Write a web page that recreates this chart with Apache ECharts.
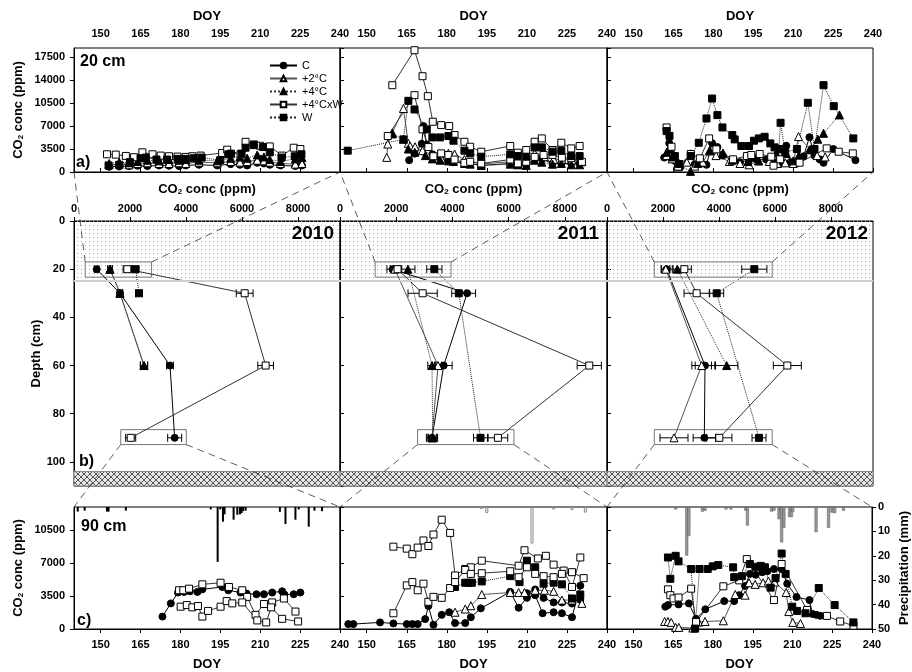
<!DOCTYPE html>
<html><head><meta charset="utf-8">
<script src="https://cdn.jsdelivr.net/npm/echarts@6/dist/echarts.min.js"></script>
<style>html,body{margin:0;padding:0;background:#fff}#c{width:912px;height:672px}</style>
</head><body><div id="c"></div>
<script>
// ---------- DATA ----------
const doyTicks = [150,165,180,195,210,225,240];
const years = ['2010','2011','2012'];
const seriesNames = ['C','+2°C','+4°C','+4°CxW','W'];

// 20 cm time series [DOY, ppm]
const t10_C  = [[153.2,800],[157,850],[160.7,900],[163.9,950],[167.6,900],[172,1000],[175.7,950],[179.5,900],[182,1000],[187,1100],[193.9,1000],[198.9,1200],[202.4,1100],[205.1,1000],[208.9,1400],[210,2000],[211.4,1300],[213.6,1100],[217.6,1000],[223.2,900],[225.7,1000]];
const t10_P2 = [[153.2,1100],[157,1200],[160.7,1100],[163.9,1300],[167.6,1400],[172,1300],[175.7,1300],[179.5,1400],[182,1300],[187,1500],[193.9,1400],[198.9,1600],[202.4,1500],[205.1,1600],[208.9,1800],[211.4,1700],[213.6,1500],[217.6,1300],[223.2,1200],[225.7,1300]];
const t10_P4 = [[153.2,1300],[157,1500],[160.7,1400],[163.9,1600],[167.6,1800],[172,1700],[175.7,1900],[179.5,1800],[182,1900],[187,1800],[193.9,1700],[198.9,2100],[202.4,2300],[205.1,2100],[208.9,2600],[211.4,2300],[213.6,1900],[217.6,1600],[223.2,2000],[225.7,2200]];
const t10_X  = [[152.4,2700],[155.7,2650],[159.5,2450],[162.6,2250],[165.7,3000],[169.5,2700],[172.6,2500],[175.7,2400],[178.9,2350],[182,2300],[184.5,2400],[187.6,2500],[195.7,2900],[197.6,3400],[202.6,2700],[204.5,4600],[207.6,4200],[210,4000],[213.6,3900],[218.2,2500],[222.6,3700],[225.1,3500]];
const t10_W  = [[153,1000],[157,1100],[161,1500],[165,2100],[167,2200],[171,1900],[175,1900],[179,2000],[182,2000],[185,2100],[188,2200],[195,1800],[198,2700],[199,2800],[203,2800],[204.5,3700],[207.6,4100],[211,3800],[213.6,3000],[218,2200],[223,2400],[225.5,2700]];

const t11_C  = [[165.9,1800],[167.9,2800],[170.6,4300],[171.25,7000],[172.5,4200],[174.6,2700],[177.5,2000],[180.6,1700],[182.5,1500],[186.6,1400],[188.75,1300],[192.9,1000],[203.75,1300],[206.6,1200],[209.75,1000],[212.9,2100],[215.6,2000],[219.6,1300],[222.9,1300],[226.6,1300],[229.75,1300]];
const t11_P2 = [[157.5,2230],[157.9,4260],[159.6,5980],[163.75,9680],[165.6,4360],[166.25,3960],[168.1,3850],[170.9,3250],[174.6,2590],[177.9,2080],[180.6,2840],[182.9,2740],[186.6,1930],[192.9,1220],[203.75,1570],[206.6,1220],[212.9,2840],[216.6,2330],[220,1930],[223.1,1930],[226.9,1830],[230.6,1570]];
const t11_P4 = [[159.6,5800],[163.75,5000],[165.6,3500],[168,3000],[172,2500],[174.6,2000],[177.5,1800],[180.6,1700],[182.5,1600],[186.6,1300],[188.75,1200],[192.9,1000],[203.75,1200],[206.6,1100],[209.75,1000],[212.9,1800],[215.6,1500],[219.6,1200],[222.9,1300],[226.6,1100],[229.75,1100]];
const t11_XA = [[159.6,13230],[167.9,18560],[170.9,14600],[172.9,11560],[174.75,7660],[177.9,7150],[180.9,7000],[182.9,5630],[186.6,4610],[188.75,3850],[192.9,3090],[203.75,3960],[206.6,2940],[209.75,3350],[212.9,4610],[215.6,5120],[219.6,3350],[222.9,4460],[226.6,3600],[229.75,3960]];
const t11_XB = [[157.9,5480],[167.9,11710],[170.9,6500],[173.1,3800],[175,2400],[177.9,2840],[180.6,2600],[182.9,1900],[186.6,1400],[188.75,1550],[192.9,1300],[203.75,1900],[206.6,1300],[209.75,1550],[212.9,2300],[216.25,2600],[219.6,2600],[223.1,2200],[226.6,2100],[230.6,1550]];
const t11_W  = [[142.9,3250],[163.75,4970],[165.6,10850],[167.9,9530],[172.5,6490],[174.6,5270],[177.5,5270],[180.6,5480],[182.5,4770],[186.6,3250],[188.75,2840],[192.9,2330],[203.75,2690],[206.6,2430],[209.75,2330],[212.9,3750],[215.6,3750],[219.6,3090],[222.9,3250],[226.6,2430],[229.75,2430]];

const t12_C  = [[161.5,2200],[163.4,4400],[164,3300],[165.5,1700],[166.4,1400],[167.5,700],[171.5,2800],[173,1200],[174.9,1200],[177.4,1100],[179.5,4400],[181.5,3800],[183.5,2500],[187.4,1700],[190,1500],[193.4,1800],[196,2000],[199.9,1900],[203,1500],[205.25,1300],[207.4,4000],[209,1500],[211.1,1300],[213.9,2400],[216.1,5300],[218,2500],[220,1900],[221.4,1400],[225.1,3500],[233.4,1800]];
const t12_P2 = [[162.4,2500],[164.5,2000],[166.5,800],[170,1500],[173,900],[176,1500],[178.6,3200],[181,2500],[186,1600],[190,1300],[193.4,1100],[197,1700],[201,1600],[204,1300],[207,1400],[210,1300],[212,5400],[216.5,3400],[219,2500],[222,2300]];
const t12_P4 = [[162.4,3000],[164.5,2300],[166.5,1200],[171.4,100],[174,1300],[178.6,3300],[183.6,2900],[187,1800],[193,1600],[197,1700],[203.6,2900],[207.4,2800],[210,1700],[212.1,2500],[216.1,3400],[219.25,5000],[221.4,5900],[227.4,8700]];
const t12_X  = [[162.4,6790],[164.25,3850],[166.75,810],[171.5,2740],[174.9,2080],[178.4,5120],[181.1,3450],[187.4,1930],[192.6,2430],[194.25,2590],[197.4,2740],[201.75,2330],[202.6,960],[205.1,1930],[212.4,1420],[222.6,3600],[227.1,3090],[232.4,2840]];
const t12_W  = [[162.4,6240],[163.5,5500],[165.5,2430],[167.1,1220],[171.5,2430],[174.5,4460],[177.4,8160],[179.5,11200],[181.5,8670],[183.4,6790],[187.1,5630],[188,4970],[190.5,3960],[193.4,3960],[195.25,4770],[197.1,5120],[199.25,5370],[201.4,4360],[203,3750],[204.6,3500],[205.25,7500],[207,3000],[211.4,3500],[215.5,10550],[218,3500],[221.4,13230],[225.25,10040],[232.6,5120]];

// 90 cm time series [DOY, ppm]
const n10_C  = [[173.25,1320],[176.4,2720],[179.1,3870],[181.4,3940],[183.6,4000],[186.4,3940],[188.25,4210],[195.75,4460],[198,4110],[202.6,3870],[204.9,3760],[208.6,3690],[211.4,3690],[214.5,3870],[218.25,4000],[219.1,3660],[222.6,3690],[225.1,3870]];
const n10_XA = [[179.5,4110],[181.1,4110],[183.25,4280],[188.25,4740],[195.1,4910],[198.25,4460],[203.25,4110],[205.1,3410],[208.25,1500],[211.4,2650],[214.5,2820],[218.9,3240],[223.25,1850]];
const n10_XB = [[180.1,2370],[182.4,2540],[184.5,2300],[186.6,2440],[188.25,1320],[190.4,1920],[195.1,2370],[197.4,2960],[199.5,2720],[203.25,2820],[208.9,910],[212.25,700],[214.1,2300],[218.25,1080],[224.25,800]];

const n11_C  = [[143.1,520],[145,520],[155,700],[160,590],[165,520],[167.1,520],[169.1,520],[171.9,1050],[173.1,2440],[175,450],[178.1,1500],[180.9,1780],[183.1,630],[186.9,630],[189,1250],[192.75,2190],[203.75,3940],[206.9,2260],[210,3310],[213.1,3590],[215.9,1670],[220,1780],[223.1,1670],[226.9,1250],[230,4600]];
const n11_CB = [[203.75,3900],[210,3800],[213.1,4200],[216.25,3300],[220,2820],[223.1,2820],[226.9,2700],[230,3100]];
const n11_P2 = [[183.1,1780],[186.9,2120],[189,2470],[193.1,3660],[203.75,3870],[206.9,3870],[209.1,3870],[213.1,4110],[216.6,4110],[220,4000],[223.1,3070],[226.9,3070],[230.6,2720]];
const n11_W  = [[183.1,4460],[186.9,4910],[188.2,4910],[189.4,4910],[193.1,5050],[203.75,5610],[207.25,4980],[210,7250],[213.1,6550],[216.25,4810],[220,4910],[223.1,4740],[226.9,3240],[230,3660]];
const n11_XA = [[160,8740],[165,8530],[167.1,7940],[169.1,8640],[171.25,9400],[173.1,8810],[175,10030],[178.1,11600],[181.25,10200],[183.1,5680],[186.9,6370],[189,6550],[193.1,7250],[206.9,6720],[209.1,8360],[214.1,7490],[217.1,7770],[220,6830],[223.75,6200],[226.9,4460],[230,7590]];
const n11_XB = [[160,1670],[165,4630],[167.1,4980],[169.1,4110],[171.25,4810],[173.1,2890],[175,3410],[178.1,3310],[181.25,4350],[183.1,4980],[186.9,6270],[189,5850],[193.1,5920],[203.75,6130],[206.9,5500],[210,6550],[213.1,5850],[216.25,5610],[220,5500],[223.1,5850],[226.9,6030],[231.25,5400]];

const n12_C  = [[162,2370],[163,2540],[167,2610],[170.9,2720],[173.6,1080],[177.1,2090],[184.25,2960],[188,2960],[189.9,3590],[192.1,4560],[193.9,5850],[196.1,5750],[198.6,6030],[200.5,6130],[203,6370],[205.9,6370],[208,4810],[211.5,3400],[216.4,3070],[217.5,1600],[219,1500],[220.5,1400]];
const n12_P2 = [[161.75,800],[163,800],[164.25,700],[165.9,170],[167.1,170],[172.4,100],[174.6,730],[177,800],[183.9,870],[188.4,3660],[192.1,3590],[193.6,4910],[195.9,4740],[198.9,4910],[200.9,5090],[203.25,4980],[207.6,3870],[208.6,1850],[210.1,700],[213,590]];
const n12_X  = [[163,4210],[163.9,3590],[165.1,3240],[167,3340],[171.75,4280],[173.6,730],[183.9,4530],[189.9,5160],[192.75,7420],[203,3070],[205.9,6900],[215.5,2020],[223,1390],[228,800],[233,350]];
const n12_W  = [[163,7590],[163.9,5330],[165.9,7770],[167,7180],[171.75,6370],[173.25,40],[174.9,6370],[178,6370],[179.9,6650],[182,6790],[187.6,6550],[188,5500],[190.9,5610],[193.9,6900],[196,6600],[198,6700],[199.6,6550],[201.75,4390],[203.6,5400],[205.9,8010],[207.4,5850],[209.9,2370],[211.75,1920],[214.9,1670],[219.9,4350],[225.9,2540],[233,700]];

// precipitation [DOY, mm]
const r10 = [[141.4,1.9],[144,1.5],[152.4,1.9],[153,1.9],[159.5,1.5],[191.4,1],[194,22.5],[195,1],[196,6],[196.6,3],[200,5.2],[201.4,3.2],[202.4,3],[203,2.5],[203.6,1.7],[204.5,1.5],[217.4,2],[219.5,7],[223.25,5.2],[224.5,1],[228.25,8.1],[230.4,1.5],[233.25,1.7]];
const r11 = [[193,0.8],[195,2.5],[211.9,15],[220,1],[226.9,1.3],[231.9,2.3]];
const r12 = [[165.9,1],[170.1,19.9],[170.9,11.9],[176,1.9],[177,1.5],[184.9,1],[186.75,1],[192.4,1.5],[193,7.6],[202.1,1.9],[203,1.5],[204.9,5],[205.5,1.5],[205.9,14.5],[206.75,8.5],[208.9,4.1],[209.6,4.1],[210.1,2],[218.9,10.3],[223.6,8.5],[224.9,2.3],[225.9,2.5],[229.25,1.5]];

// depth profiles [ppm, depth cm] and errors (ppm)
const p10_C  = [[810,20],[1643,30],[3429,60],[3595,90]];   const e10_C  = [80,100,120,250];
const p10_P2 = [[1286,20],[1643,30],[2500,60]];             const e10_P2 = [80,80,130];
const p10_P4 = [[1286,20],[1643,30],[2500,60]];             const e10_P4 = [80,80,130];
const p10_X  = [[1905,20],[6095,30],[6845,60],[2024,90]];  const e10_X  = [150,300,280,180];
const p10_W  = [[2202,20],[2321,30]];                       const e10_W  = [100,120];

const p11_C  = [[1869,20],[4524,30],[3690,60],[3274,90]];  const e11_C  = [200,300,300,200];
const p11_P2 = [[1950,20],[3488,60],[3274,90]];             const e11_P2 = [150,130,150];
const p11_P4 = [[2417,20],[3274,60],[3300,90]];             const e11_P4 = [250,150,150];
const p11_X  = [[2048,20],[2940,30],[8869,60],[5619,90]];  const e11_X  = [150,520,430,350];
const p11_W  = [[3357,20],[4226,30],[5000,90]];             const e11_W  = [270,250,250];

const p12_C  = [[2131,20],[3500,60],[3476,90]];             const e12_C  = [200,350,400];
const p12_P2 = [[2100,20],[3381,60],[2393,90]];             const e12_P2 = [150,350,500];
const p12_P4 = [[2512,20],[4274,60]];                       const e12_P4 = [150,400];
const p12_X  = [[2762,20],[3202,30],[6440,60],[4012,90]];  const e12_X  = [250,450,500,450];
const p12_W  = [[5262,20],[3917,30],[5429,90]];             const e12_W  = [450,250,250];

// zoom boxes (ppm extents) and depth extents
const box20 = [[400,2770],[1250,3950],[1690,5900]];
const box90 = [[1670,4010],[2760,6190],[1690,5900]];
const box20Depth = [17,23.3];
const box90Depth = [86.6,92.8];

// ---------- CHART ----------
const FONT = 'Liberation Sans, Arial, sans-serif';
const COLS = [[74,266],[340,267],[607,266]];
const ROWS = [[48,124],[221,265],[507,124]];
const A_MAX = 18900, B_MAX = 110, C_MAX = 12950, X_MAX = 9500;
const lab = {fontFamily:FONT, fontWeight:'bold', fontSize:11, color:'#000'};
const nameSt = {fontFamily:FONT, fontWeight:'bold', fontSize:13, color:'#000',
  rich:{s:{fontFamily:FONT, fontWeight:'bold', fontSize:8, color:'#000', verticalAlign:'bottom', padding:[6,0,0,0]}}};
const black = {lineStyle:{color:'#000', width:1}};

const grids = [];
ROWS.forEach(r => COLS.forEach(c => grids.push({left:c[0], top:r[0], width:c[1], height:r[1],
  show:true, borderColor:'#000', borderWidth:1, backgroundColor:'transparent'})));

const xAxes = [], yAxes = [];
function doyX(gi, pos){
  return {type:'value', gridIndex:gi, position:pos, min:140, max:240,
    name:'DOY', nameLocation:'middle', nameGap: pos==='top'?25:29, nameTextStyle:nameSt,
    axisLine:black, axisTick:{customValues:doyTicks, length:4, lineStyle:{color:'#000'}},
    axisLabel:Object.assign({customValues:doyTicks, margin: pos==='top'?9:10}, lab), splitLine:{show:false}};
}
for (let i=0;i<3;i++) xAxes.push(doyX(i,'top'));
for (let i=0;i<3;i++) xAxes.push({type:'value', gridIndex:3+i, position:'top', min:0, max:X_MAX, interval:2000,
  name:'CO{s|2} conc (ppm)', nameLocation:'middle', nameGap:25, nameTextStyle:nameSt,
  axisLine:black, axisTick:{length:4, lineStyle:{color:'#000'}},
  axisLabel:Object.assign({margin:7, showMaxLabel:false, formatter:v=> v%2000===0?String(v):''}, lab),
  splitLine:{show:false}});
for (let i=0;i<3;i++) xAxes.push(doyX(6+i,'bottom'));

function valY(gi, max, interval, name, gap, inverse){
  const first = gi%3===0;
  return {type:'value', gridIndex:gi, min:0, max:max, interval:interval, inverse:!!inverse,
    name: first?name:'', nameLocation:'middle', nameRotate:90, nameGap:gap, nameTextStyle:nameSt,
    axisLine:black, axisTick:{inside:!first, length:4, lineStyle:{color:'#000'}},
    axisLabel:Object.assign({show:first, margin:9, showMaxLabel:false, formatter:v=> v%interval===0?String(v):''}, lab),
    splitLine:{show:false}};
}
for (let i=0;i<3;i++) yAxes.push(valY(i, A_MAX, 3500, 'CO{s|2} conc (ppm)', 49));
for (let i=0;i<3;i++) yAxes.push(valY(3+i, B_MAX, 20, 'Depth (cm)', 21, true));
for (let i=0;i<3;i++) yAxes.push(valY(6+i, C_MAX, 3500, 'CO{s|2} conc (ppm)', 49));
for (let i=0;i<3;i++) yAxes.push({type:'value', gridIndex:6+i, position:'right', min:0, max:50, interval:10, inverse:true,
  show: i===2, name: i===2?'Precipitation (mm)':'', nameLocation:'middle', nameRotate:90, nameGap:26, nameTextStyle:nameSt,
  axisLine:black, axisTick:{length:4, lineStyle:{color:'#000'}}, axisLabel:Object.assign({margin:6}, lab), splitLine:{show:false}});

const STY = {
  C:{name:'C', symbol:'circle', size:7, fill:'#000', line:'#000', type:'solid'},
  P2:{name:'+2°C', symbol:'triangle', size:8, fill:'#fff', line:'#555', type:'solid'},
  P4:{name:'+4°C', symbol:'triangle', size:8, fill:'#000', line:'#333', type:'dotted'},
  X:{name:'+4°CxW', symbol:'rect', size:7, fill:'#fff', line:'#333', type:'solid'},
  W:{name:'W', symbol:'rect', size:7, fill:'#000', line:'#222', type:'dotted'}
};
function ln(k, data, gi, yi, extra){
  const s = STY[k];
  return Object.assign({type:'line', name:s.name, xAxisIndex:gi, yAxisIndex: yi===undefined?gi:yi, data:data,
    symbol:s.symbol, symbolSize:s.size, showAllSymbol:true,
    itemStyle:{color:s.fill, borderColor:'#000', borderWidth:1},
    lineStyle:{color:s.line, width:1, type:s.type}, z:3, silent:true, animation:false}, extra||{});
}
function errSeries(prof, errs, gi){
  return {type:'custom', xAxisIndex:gi, yAxisIndex:gi, z:2, silent:true, animation:false,
    encode:{x:0, y:1},
    data: prof.map((p,i)=>[p[0], p[1], errs[i]]),
    renderItem:function(params, api){
      const x=api.value(0), y=api.value(1), e=api.value(2);
      const a=api.coord([x-e,y]), b=api.coord([x+e,y]); const h=4;
      const st={stroke:'#000', lineWidth:1};
      return {type:'group', children:[
        {type:'line', shape:{x1:a[0],y1:a[1],x2:b[0],y2:b[1]}, style:st},
        {type:'line', shape:{x1:a[0],y1:a[1]-h,x2:a[0],y2:a[1]+h}, style:st},
        {type:'line', shape:{x1:b[0],y1:b[1]-h,x2:b[0],y2:b[1]+h}, style:st}]};
    }};
}
function dotPat(){ const c=document.createElement('canvas'); c.width=4; c.height=4; const g=c.getContext('2d'); g.fillStyle='#a8a8a8'; g.fillRect(1,1,1,1); return c; }
function hatchPat(){ const c=document.createElement('canvas'); c.width=6; c.height=6; const g=c.getContext('2d');
  g.fillStyle='#e6e6e6'; g.fillRect(0,0,6,6); g.strokeStyle='#555'; g.lineWidth=1; g.beginPath();
  g.moveTo(0,0); g.lineTo(6,6); g.moveTo(6,0); g.lineTo(0,6); g.stroke(); return c; }
const DOTS = {image:dotPat(), repeat:'repeat'}, HATCH = {image:hatchPat(), repeat:'repeat'};

const series = [];
// row a
const topSets = [
  [['C',t10_C],['P2',t10_P2],['P4',t10_P4],['X',t10_X],['W',t10_W]],
  [['C',t11_C],['P2',t11_P2],['P4',t11_P4],['X',t11_XA],['X',t11_XB],['W',t11_W]],
  [['C',t12_C],['P2',t12_P2],['P4',t12_P4],['X',t12_X],['W',t12_W]]];
topSets.forEach((set,i)=> set.forEach(s=> series.push(ln(s[0], s[1], i))));
// row b
const profSets = [
  [['C',p10_C,e10_C],['P2',p10_P2,e10_P2],['P4',p10_P4,e10_P4],['X',p10_X,e10_X],['W',p10_W,e10_W]],
  [['C',p11_C,e11_C],['P2',p11_P2,e11_P2],['P4',p11_P4,e11_P4],['X',p11_X,e11_X],['W',p11_W,e11_W]],
  [['C',p12_C,e12_C],['P2',p12_P2,e12_P2],['P4',p12_P4,e12_P4],['X',p12_X,e12_X],['W',p12_W,e12_W]]];
profSets.forEach((set,i)=>{
  const gi = 3+i;
  set.forEach((s,k)=>{
    series.push(errSeries(s[1], s[2], gi));
    const extra = {};
    if (k===0){
      extra.markArea = {silent:true, label:{show:false}, data:[
        [{yAxis:0, itemStyle:{color:DOTS}},{yAxis:25}],
        [{yAxis:104, itemStyle:{color:HATCH, borderColor:'#888', borderWidth:1}},{yAxis:B_MAX}],
        [{coord:[box20[i][0], box20Depth[0]], itemStyle:{color:'rgba(0,0,0,0)', borderColor:'#777', borderWidth:1}},{coord:[box20[i][1], box20Depth[1]]}],
        [{coord:[box90[i][0], box90Depth[0]], itemStyle:{color:'rgba(0,0,0,0)', borderColor:'#777', borderWidth:1}},{coord:[box90[i][1], box90Depth[1]]}]]};
      extra.markLine = {silent:true, symbol:['none','none'], label:{show:false}, animation:false,
        lineStyle:{color:'#d0d0d0', width:2, type:'solid'}, data:[{yAxis:25}]};
    }
    series.push(ln(s[0], s[1], gi, gi, extra));
  });
});
// row c precipitation
const rainStyles = [
  {color:'#000'},
  {color:'#fff', borderColor:'#888', borderWidth:1},
  {color:'#999', borderColor:'#555', borderWidth:0.5}];
[r10,r11,r12].forEach((r,i)=> series.push({type:'bar', xAxisIndex:6+i, yAxisIndex:9+i, data:r,
  barWidth: i===0?2:3, itemStyle:rainStyles[i], z:1, silent:true, animation:false}));
// row c CO2
const botSets = [
  [['C',n10_C],['X',n10_XA],['X',n10_XB]],
  [['C',n11_C],['C',n11_CB],['P2',n11_P2],['W',n11_W],['X',n11_XA],['X',n11_XB]],
  [['C',n12_C],['P2',n12_P2],['X',n12_X],['W',n12_W]]];
botSets.forEach((set,i)=> set.forEach(s=> series.push(ln(s[0], s[1], 6+i))));

const chart = echarts.init(document.getElementById('c'), null, {renderer:'canvas'});
chart.setOption({
  animation:false, backgroundColor:'#fff', textStyle:{fontFamily:FONT},
  grid:grids, xAxis:xAxes, yAxis:yAxes, series:series,
  legend:{data:seriesNames, orient:'vertical', left:264, top:55, itemWidth:27, itemHeight:7, itemGap:2,
    selectedMode:false, textStyle:{fontFamily:FONT, fontSize:11, color:'#000'}}
});

// texts + zoom connector lines
const g = [];
function txt(t, x, y, size, align){ g.push({type:'text', x:x, y:y, silent:true, z:10,
  style:{text:t, fontFamily:FONT, fontWeight:'bold', fontSize:size, fill:'#000', align:align||'left', verticalAlign:'middle'}}); }
txt('20 cm', 80, 62, 16); txt('a)', 76, 163, 16); txt('b)', 79, 462, 16); txt('90 cm', 81, 527, 16); txt('c)', 77, 621, 16);
const yearRight = [334, 599, 868];
years.forEach((y,i)=> txt(y, yearRight[i], 234, 19, 'right'));
const dash = {stroke:'#333', lineWidth:0.8, lineDash:[7,5]};
for (let i=0;i<3;i++){
  const a1 = chart.convertToPixel({gridIndex:3+i}, [box20[i][0], box20Depth[0]]);
  const a2 = chart.convertToPixel({gridIndex:3+i}, [box20[i][1], box20Depth[0]]);
  const t1 = chart.convertToPixel({gridIndex:i}, [140, 0]);
  const t2 = chart.convertToPixel({gridIndex:i}, [240, 0]);
  const b1 = chart.convertToPixel({gridIndex:3+i}, [box90[i][0], box90Depth[1]]);
  const b2 = chart.convertToPixel({gridIndex:3+i}, [box90[i][1], box90Depth[1]]);
  const c1 = chart.convertToPixel({gridIndex:6+i}, [140, C_MAX]);
  const c2 = chart.convertToPixel({gridIndex:6+i}, [240, C_MAX]);
  [[a1,t1],[a2,t2],[b1,c1],[b2,c2]].forEach(p=> g.push({type:'line', silent:true, z:5,
    shape:{x1:p[0][0], y1:p[0][1], x2:p[1][0], y2:p[1][1]}, style:dash}));
}
chart.setOption({graphic:g});
</script></body></html>
